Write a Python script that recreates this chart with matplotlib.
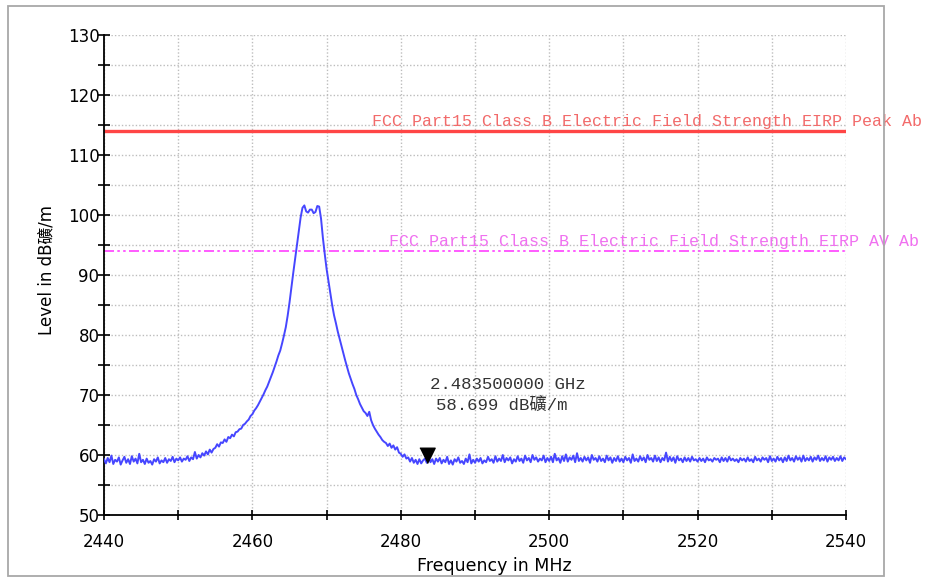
import numpy as np
import matplotlib
matplotlib.use("Agg")
import matplotlib.pyplot as plt
from matplotlib.patches import Rectangle
from matplotlib.ticker import MultipleLocator

# ---- data (0.25 MHz steps, 2440 .. 2540 MHz) ----
F_START, F_STOP = 2440, 2540
level = [
    59.3, 58.6, 59.5, 58.8, 59.9, 58.5, 59.2, 58.9, 59.6, 58.4, 59.1, 59.7, 58.7, 59.3, 58.5, 59.8, 58.9, 59.4, 58.6, 60.2,
    58.8, 59.2, 58.5, 59.4, 58.7, 59.0, 58.4, 59.3, 58.9, 59.6, 58.6, 59.1, 58.8, 59.5, 58.7, 59.3, 59.0, 59.7, 58.8, 59.4,
    59.1, 59.6, 58.9, 59.4, 59.2, 59.8, 59.0, 59.6, 59.3, 60.5, 59.4, 60.0, 59.6, 60.3, 59.9, 60.6, 60.1, 60.9, 60.4, 61.0,
    61.2, 61.8, 61.4, 62.1, 62.0, 62.6, 62.2, 63.0, 62.8, 63.4, 63.1, 63.8, 63.9, 64.3, 64.4, 65.0, 65.2, 65.6, 65.9, 66.5,
    66.8, 67.4, 67.8, 68.3, 68.9, 69.5, 70.1, 70.8, 71.4, 72.2, 73.0, 73.8, 74.7, 75.6, 76.6, 77.4, 78.6, 79.9, 81.3, 83.2,
    85.4, 87.9, 90.3, 92.6, 94.8, 97.2, 99.6, 101.2, 101.6, 100.6, 100.4, 100.9, 100.9, 100.3, 100.5, 101.5, 101.4, 99.4, 96.2, 93.5,
    91.0, 89.0, 87.0, 85.0, 83.3, 82.0, 80.6, 79.4, 78.2, 77.0, 75.8, 74.7, 73.6, 72.7, 71.8, 71.0, 70.0, 69.3, 68.5, 67.9,
    67.3, 67.0, 66.5, 67.2, 65.8, 65.0, 64.4, 63.9, 63.4, 63.0, 62.5, 62.2, 62.0, 61.5, 61.9, 61.2, 61.6, 60.9, 61.3, 60.4,
    60.2, 59.7, 60.1, 59.4, 59.6, 58.9, 59.5, 58.7, 59.2, 58.5, 59.3, 58.6, 59.1, 59.4, 58.7, 59.6, 58.8, 59.3, 58.5, 59.4,
    58.9, 59.5, 58.6, 59.2, 58.8, 59.7, 58.5, 59.1, 58.4, 59.3, 58.9, 59.6, 58.7, 59.0, 58.5, 59.4, 58.8, 60.1, 58.6, 59.2,
    58.7, 59.4, 58.9, 59.5, 58.6, 59.1, 58.8, 59.7, 59.0, 59.3, 58.7, 59.8, 58.9, 59.4, 59.0, 60.0, 58.8, 59.5, 59.1, 59.6,
    58.6, 59.3, 58.9, 59.8, 59.0, 59.4, 58.7, 59.9, 59.1, 59.5, 58.8, 60.0, 59.2, 59.6, 58.9, 59.4, 59.1, 59.9, 58.8, 59.5,
    59.0, 59.7, 58.8, 60.2, 59.1, 59.5, 58.7, 59.8, 59.0, 60.1, 58.9, 59.6, 59.2, 59.9, 58.8, 60.3, 59.0, 59.5, 58.9, 59.7,
    59.1, 59.6, 58.7, 60.0, 59.2, 59.5, 58.9, 59.8, 59.0, 59.4, 58.8, 59.9, 59.1, 59.6, 58.7, 59.5, 59.0, 59.8, 58.9, 59.4,
    58.8, 59.7, 59.1, 59.5, 58.7, 60.1, 59.0, 59.4, 58.9, 59.8, 59.1, 59.6, 58.8, 60.0, 59.2, 59.5, 58.9, 59.9, 59.0, 59.6,
    58.8, 59.5, 59.1, 60.4, 58.9, 59.7, 59.0, 59.6, 58.7, 59.8, 59.1, 59.4, 58.8, 59.6, 59.0, 59.5, 58.9, 59.7, 59.1, 59.3,
    58.9, 59.5, 59.0, 59.4, 58.8, 59.6, 59.1, 59.3, 58.9, 59.5, 59.2, 59.4, 58.8, 59.6, 59.0, 59.5, 58.9, 59.7, 59.1, 59.4,
    59.0, 59.3, 58.8, 59.5, 59.1, 59.4, 58.9, 59.6, 59.0, 59.3, 58.8, 59.7, 59.1, 59.4, 58.9, 59.6, 59.2, 59.5, 58.8, 59.8,
    59.0, 59.4, 58.9, 59.7, 59.1, 59.5, 58.8, 59.6, 59.0, 59.9, 59.1, 59.5, 58.9, 59.8, 59.2, 59.6, 58.9, 59.9, 59.0, 59.5,
    59.1, 59.7, 58.9, 59.6, 59.2, 59.9, 59.0, 59.5, 59.1, 59.8, 58.9, 59.6, 59.2, 59.7, 59.0, 59.5, 59.1, 59.8, 59.0, 59.6,
    59.3,
]
freq = np.linspace(F_START, F_STOP, len(level))

peak_limit = 114.0
av_limit = 94.0
peak_label = "FCC Part15 Class B Electric Field Strength EIRP Peak Ab"
av_label = "FCC Part15 Class B Electric Field Strength EIRP AV Ab"

marker_freq = 2483.5      # MHz
marker_level = 58.699
marker_text1 = "2.483500000 GHz"
marker_text2 = "58.699 dB礦/m"

# ---- figure ----
fig = plt.figure(figsize=(9.32, 5.78), dpi=100)
fig.patches.append(Rectangle((8 / 932, 2 / 578), 876 / 932, 570 / 578,
                             transform=fig.transFigure, fill=False,
                             edgecolor="#a8a8a8", lw=1.3))
ax = fig.add_axes([104 / 932, 63 / 578, 742 / 932, 480 / 578])

ax.plot(freq, level, color="#4646ff", lw=1.4, zorder=3)
ax.axhline(peak_limit, color="#ff4545", lw=2.4, zorder=2)
ax.axhline(av_limit, color="#ff40ff", lw=1.2, dashes=[6, 2, 1.5, 2, 1.5, 2], zorder=2)

mono = ["Liberation Mono", "Noto Sans CJK SC"]
ax.text(2476.1, peak_limit + 0.35, peak_label, color="#f26a6a", fontsize=12,
        family=mono, ha="left", va="bottom", clip_on=False)
ax.text(2478.4, av_limit + 0.35, av_label, color="#f070f0", fontsize=12,
        family=mono, ha="left", va="bottom", clip_on=False)

# marker triangle, tip sitting on the trace
tri = [(-0.5, 1.0), (0.5, 1.0), (0.0, 0.0)]
ax.plot([marker_freq], [marker_level], marker=tri, ms=22, color="black",
        ls="none", zorder=4)
ax.text(2494.4, 71.8, marker_text1, color="#333333", fontsize=12.5,
        family=mono, ha="center", va="center")
ax.text(2493.6, 68.3, marker_text2, color="#333333", fontsize=12.5,
        family=mono, ha="center", va="center")

ax.set_xlim(F_START, F_STOP)
ax.set_ylim(50, 130)
ax.xaxis.set_major_locator(MultipleLocator(20))
ax.xaxis.set_minor_locator(MultipleLocator(10))
ax.yaxis.set_major_locator(MultipleLocator(10))
ax.yaxis.set_minor_locator(MultipleLocator(5))

ax.grid(True, which="both", color="#bdbdbd", ls=(0, (1, 1.5)), lw=1.0)
ax.set_axisbelow(True)

for s in ("top", "right"):
    ax.spines[s].set_visible(False)
for s in ("left", "bottom"):
    ax.spines[s].set_linewidth(1.3)
    ax.spines[s].set_color("black")

ax.tick_params(axis="y", which="both", direction="inout", length=8.5, width=1.2,
               pad=-1, labelsize=12)
ax.tick_params(axis="x", which="both", direction="inout", length=7.5, width=1.2,
               pad=9, labelsize=12)
for lab in ax.get_xticklabels() + ax.get_yticklabels():
    lab.set_family("DejaVu Sans")

ax.set_ylabel("Level in dB礦/m", fontsize=12,
              family=["DejaVu Sans", "Noto Sans CJK SC"])
ax.yaxis.set_label_coords(-0.066, 0.51)
ax.set_xlabel("Frequency in MHz", fontsize=12.5, family="DejaVu Sans")
ax.xaxis.set_label_coords(0.5256, -0.087)

fig.savefig("out.png", dpi=100)
